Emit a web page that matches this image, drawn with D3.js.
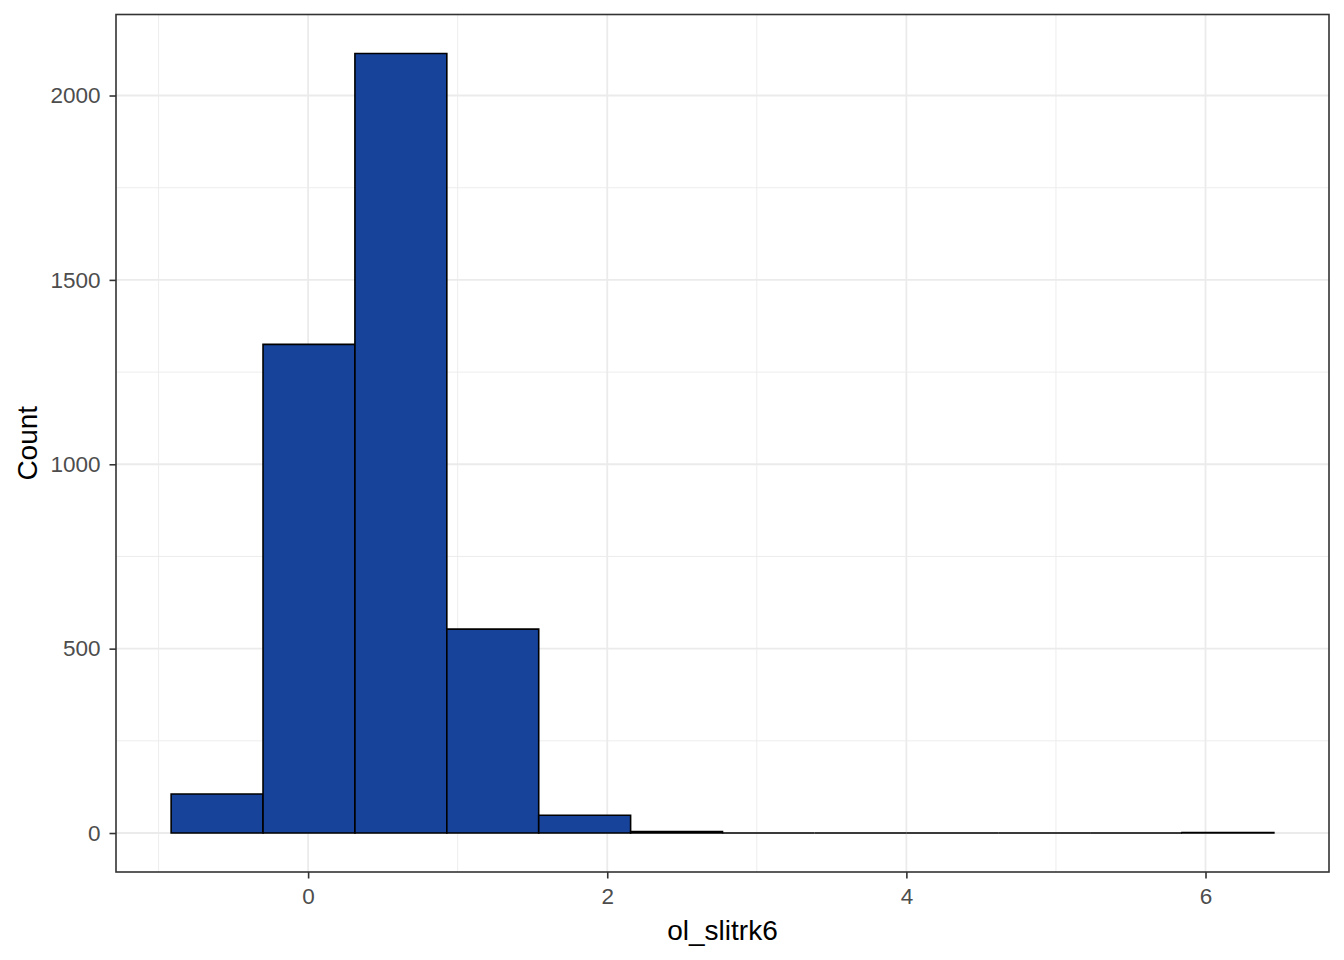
<!DOCTYPE html>
<html><head><meta charset="utf-8">
<script src="https://cdn.jsdelivr.net/npm/d3@7"></script>
<style>body{margin:0;background:#fff}svg{display:block}</style>
</head><body>
<script>
// Histogram bins (edges and counts)
const binStart = -0.9158;
const binWidth = 0.6144;
const counts = [106, 1325, 2114, 553, 48, 4, 0, 0, 0, 0, 0, 1];
const xTicks = [0, 2, 4, 6];
const xMinor = [-1, 1, 3, 5];
const yTicks = [0, 500, 1000, 1500, 2000];
const yMinor = [250, 750, 1250, 1750];
const xTitle = "ol_slitrk6";
const yTitle = "Count";

const W = 1344, H = 960;
const L = 116, R = 1329, T = 14.5, B = 872;
const FONT = "Liberation Sans, Arial, sans-serif";

const bins = counts.map((c, i) => ({x0: binStart + i * binWidth, x1: binStart + (i + 1) * binWidth, n: c}));
const xMin = bins[0].x0, xMax = bins[bins.length - 1].x1;
const xr = xMax - xMin;
const yMaxC = d3.max(counts);

const x = d3.scaleLinear().domain([xMin - 0.05 * xr, xMax + 0.05 * xr]).range([L, R]);
const y = d3.scaleLinear().domain([-0.05 * yMaxC, yMaxC * 1.05]).range([B, T]);

const svg = d3.select("body").append("svg").attr("width", W).attr("height", H);
svg.append("rect").attr("x", L).attr("y", T).attr("width", R - L).attr("height", B - T).attr("fill", "#fff");

const g = svg.append("g");
g.selectAll(".xm").data(xMinor).enter().append("line")
  .attr("x1", d => x(d)).attr("x2", d => x(d)).attr("y1", T).attr("y2", B)
  .attr("stroke", "#EBEBEB").attr("stroke-width", 0.9);
g.selectAll(".ym").data(yMinor).enter().append("line")
  .attr("y1", d => y(d)).attr("y2", d => y(d)).attr("x1", L).attr("x2", R)
  .attr("stroke", "#EBEBEB").attr("stroke-width", 0.9);
g.selectAll(".xM").data(xTicks).enter().append("line")
  .attr("x1", d => x(d)).attr("x2", d => x(d)).attr("y1", T).attr("y2", B)
  .attr("stroke", "#EBEBEB").attr("stroke-width", 1.8);
g.selectAll(".yM").data(yTicks).enter().append("line")
  .attr("y1", d => y(d)).attr("y2", d => y(d)).attr("x1", L).attr("x2", R)
  .attr("stroke", "#EBEBEB").attr("stroke-width", 1.8);

// bars as closed paths so zero-height bins still show their outline
svg.append("g").selectAll("path").data(bins).enter().append("path")
  .attr("d", d => {
    const p = d3.path();
    p.rect(x(d.x0), y(d.n), x(d.x1) - x(d.x0), y(0) - y(d.n));
    return p.toString();
  })
  .attr("fill", "#17439A").attr("stroke", "#000").attr("stroke-width", 1.6);

svg.append("rect").attr("x", L).attr("y", T).attr("width", R - L).attr("height", B - T)
  .attr("fill", "none").attr("stroke", "#333333").attr("stroke-width", 1.6);

// axes
const xAxis = svg.append("g").attr("transform", `translate(0,${B})`)
  .call(d3.axisBottom(x).tickValues(xTicks).tickSize(6.5).tickPadding(10).tickFormat(d3.format("d")));
const yAxis = svg.append("g").attr("transform", `translate(${L},0)`)
  .call(d3.axisLeft(y).tickValues(yTicks).tickSize(6.5).tickPadding(9).tickFormat(d3.format("d")));
[xAxis, yAxis].forEach(a => {
  a.select(".domain").remove();
  a.selectAll(".tick line").attr("stroke", "#333333").attr("stroke-width", 1.6);
  a.selectAll(".tick text").attr("fill", "#4D4D4D").style("font-family", FONT).style("font-size", "22.5px");
});

svg.append("text").attr("x", (L + R) / 2).attr("y", 940).attr("text-anchor", "middle")
  .style("font-family", FONT).style("font-size", "28px").attr("fill", "#000").text(xTitle);
svg.append("text").attr("transform", `translate(37,${(T + B) / 2}) rotate(-90)`).attr("text-anchor", "middle")
  .style("font-family", FONT).style("font-size", "28px").attr("fill", "#000").text(yTitle);
</script>
</body></html>
